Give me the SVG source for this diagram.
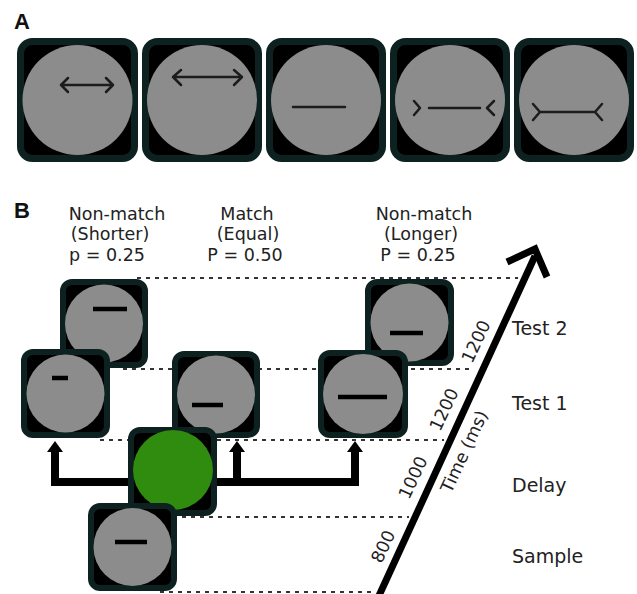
<svg xmlns="http://www.w3.org/2000/svg" width="637" height="594" viewBox="0 0 637 594">
  <style>
    .frameA { fill:#000; stroke:#0d2220; stroke-width:7; }
    .frameB { fill:#000; stroke:#0d2220; stroke-width:6; }
    .disc { fill:#8c8c8c; }
    .go { fill:#2f8c0e; }
    .fig { stroke:#1c1c1c; stroke-width:2.5; fill:none; stroke-linecap:round; stroke-linejoin:round; }
    .bar { stroke:#000; stroke-width:4.5; }
    .dot { stroke:#333; stroke-width:2; stroke-dasharray:4 5; fill:none; }
    .conn { stroke:#000; stroke-width:8; fill:none; stroke-linejoin:miter; }
    .panel { font-family:"Liberation Sans", Arial, sans-serif; font-weight:bold; font-size:22px; fill:#111; }
    .t { font-family:"DejaVu Sans", "Liberation Sans", sans-serif; font-size:17.5px; fill:#222; }
    .side { font-family:"DejaVu Sans", "Liberation Sans", sans-serif; font-size:19px; fill:#222; }
    .tick { font-family:"DejaVu Sans", "Liberation Sans", sans-serif; font-size:17.5px; fill:#222; }
  </style>
  <defs>
    <marker id="head" viewBox="0 0 10 10" refX="5" refY="2" markerWidth="2" markerHeight="1.4" orient="auto-start-reverse" markerUnits="strokeWidth">
      <path d="M0,10 L5,0 L10,10 Z" fill="#000"/>
    </marker>
  </defs>

  <rect width="637" height="594" fill="#fff"/>

  <!-- Panel A: illusion stimuli -->
  <text class="panel" x="14" y="29">A</text>
  <g id="a1">
    <rect class="frameA" x="20.5" y="41.5" width="114" height="117" rx="12"/>
    <circle class="disc" cx="77.5" cy="100" r="55"/>
    <path class="fig" d="M61,85 H113 M68,78 L61,85 L68,92 M106,78 L113,85 L106,92"/>
  </g>
  <g id="a2">
    <rect class="frameA" x="145.5" y="41.5" width="113" height="117" rx="12"/>
    <circle class="disc" cx="202" cy="100" r="55"/>
    <path class="fig" d="M173,77 H242 M181,70 L173,77 L181,85 M234,70 L242,77 L234,85"/>
  </g>
  <g id="a3">
    <rect class="frameA" x="269.5" y="41.5" width="113" height="117" rx="12"/>
    <circle class="disc" cx="326" cy="100" r="55"/>
    <path class="fig" d="M293,107 H345"/>
  </g>
  <g id="a4">
    <rect class="frameA" x="393.5" y="41.5" width="113" height="117" rx="12"/>
    <circle class="disc" cx="450" cy="100" r="55"/>
    <path class="fig" d="M429,108 H480 M414,101 L420,108 L414,115 M494,101 L487,108 L494,115"/>
  </g>
  <g id="a5">
    <rect class="frameA" x="517.5" y="41.5" width="113" height="117" rx="12"/>
    <circle class="disc" cx="574" cy="100" r="55"/>
    <path class="fig" d="M540,112 H595 M533,104 L540,112 L533,120 M602,104 L595,112 L602,120"/>
  </g>

  <!-- Panel B: task timeline -->
  <text class="panel" x="14" y="218">B</text>

  <g id="headers">
    <text class="t" x="117" y="220" text-anchor="middle">Non-match</text>
    <text class="t" x="110" y="240" text-anchor="middle">(Shorter)</text>
    <text class="t" x="107" y="261" text-anchor="middle">p = 0.25</text>
    <text class="t" x="247" y="220" text-anchor="middle">Match</text>
    <text class="t" x="248" y="240" text-anchor="middle">(Equal)</text>
    <text class="t" x="245" y="261" text-anchor="middle">P = 0.50</text>
    <text class="t" x="424" y="220" text-anchor="middle">Non-match</text>
    <text class="t" x="421" y="240" text-anchor="middle">(Longer)</text>
    <text class="t" x="418" y="261" text-anchor="middle">P = 0.25</text>
  </g>

  <!-- epoch guide lines -->
  <g id="guides">
    <line class="dot" x1="137" y1="278" x2="518" y2="278"/>
    <line class="dot" x1="123" y1="369" x2="472" y2="369"/>
    <line class="dot" x1="100" y1="440" x2="444" y2="440"/>
    <line class="dot" x1="182" y1="517" x2="409" y2="517"/>
    <line class="dot" x1="160" y1="592" x2="376" y2="592"/>
  </g>

  <!-- time axis -->
  <g id="axis">
    <line x1="377" y1="600" x2="535" y2="256" stroke="#000" stroke-width="7"/>
    <polyline points="507,262 535,249 547,277" fill="none" stroke="#000" stroke-width="7" stroke-linejoin="miter"/>
    <text class="tick" transform="translate(384,547) rotate(-65)" text-anchor="middle" dominant-baseline="middle">800</text>
    <text class="tick" transform="translate(414,478) rotate(-65)" text-anchor="middle" dominant-baseline="middle">1000</text>
    <text class="tick" transform="translate(445,410) rotate(-65)" text-anchor="middle" dominant-baseline="middle">1200</text>
    <text class="tick" transform="translate(477,342) rotate(-65)" text-anchor="middle" dominant-baseline="middle">1200</text>
    <text class="tick" transform="translate(465,452) rotate(-65)" text-anchor="middle" dominant-baseline="middle">Time (ms)</text>
  </g>

  <g id="epochs">
    <text class="side" x="512" y="335">Test 2</text>
    <text class="side" x="512" y="410">Test 1</text>
    <text class="side" x="512" y="492">Delay</text>
    <text class="side" x="512" y="563">Sample</text>
  </g>

  <!-- branches from the delay to each test outcome -->
  <g id="connectors">
    <path class="conn" d="M55,451 V482 H355 V451"/>
    <line class="conn" x1="237" y1="482" x2="237" y2="451"/>
    <path d="M55,441 L63,452 L47,452 Z M237,441 L245,452 L229,452 Z M355,441 L363,452 L347,452 Z" fill="#000"/>
  </g>

  <g id="shorter-test2">
    <rect class="frameB" x="63" y="282" width="82" height="83" rx="9"/>
    <circle class="disc" cx="104" cy="323.5" r="39"/>
    <line class="bar" x1="93" y1="309" x2="127" y2="309"/>
  </g>
  <g id="shorter-test1">
    <rect class="frameB" x="24" y="352" width="83" height="83" rx="9"/>
    <circle class="disc" cx="65.5" cy="393.5" r="39"/>
    <line class="bar" x1="52" y1="378" x2="68" y2="378"/>
  </g>
  <g id="match-test1">
    <rect class="frameB" x="175" y="354" width="82" height="81" rx="9"/>
    <circle class="disc" cx="216" cy="394.5" r="39"/>
    <line class="bar" x1="192" y1="405" x2="223" y2="405"/>
  </g>
  <g id="longer-test2">
    <rect class="frameB" x="368" y="282" width="83" height="81" rx="9"/>
    <circle class="disc" cx="409.5" cy="322.5" r="39"/>
    <line class="bar" x1="390" y1="333" x2="423" y2="333"/>
  </g>
  <g id="longer-test1">
    <rect class="frameB" x="321" y="353" width="84" height="82" rx="9"/>
    <circle class="disc" cx="363" cy="394" r="40"/>
    <line class="bar" x1="338" y1="397" x2="387" y2="397"/>
  </g>
  <g id="delay">
    <rect class="frameB" x="131" y="430" width="83" height="83" rx="9"/>
    <circle class="go" cx="173" cy="470" r="40"/>
  </g>
  <g id="sample">
    <rect class="frameB" x="91" y="506" width="83" height="82" rx="9"/>
    <circle class="disc" cx="132.5" cy="547" r="39"/>
    <line class="bar" x1="115" y1="542" x2="147" y2="542"/>
  </g>
</svg>
